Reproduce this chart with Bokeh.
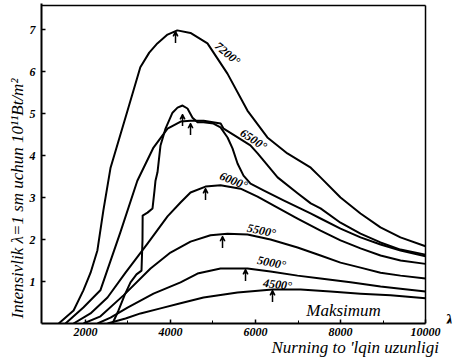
import math
from bokeh.plotting import figure
from bokeh.models import Range1d, Label, Arrow, VeeHead, FixedTicker, Title
from bokeh.embed import file_html
from bokeh.resources import INLINE

# ---- data (wavelength in Angstrom, intensity in 10^11 W/m^2 per cm) ----
t7200_x = [1370, 1720, 1950, 2120, 2280, 2420, 2590, 2990, 3290, 3500, 3690, 3930, 4160, 4470, 4870, 5340, 5810, 6280, 6750, 7300, 7530, 8000, 8470, 8940, 9410, 10000]
t7200_y = [0, 0.31, 0.79, 1.21, 1.74, 2.69, 3.71, 5.07, 6.10, 6.45, 6.67, 6.88, 6.98, 6.92, 6.67, 5.95, 5.07, 4.43, 4.05, 3.71, 3.48, 3.00, 2.62, 2.29, 2.05, 1.84]

t6500_x = [1530, 1950, 2350, 2820, 3220, 3600, 3930, 4240, 4470, 4780, 5180, 5250, 5580, 5880, 6050, 6520, 6990, 7300, 7530, 8000, 8470, 8940, 9410, 10000]
t6500_y = [0, 0.38, 0.79, 2.17, 3.40, 4.19, 4.64, 4.81, 4.83, 4.83, 4.76, 4.64, 4.43, 4.24, 4.05, 3.48, 3.10, 2.86, 2.74, 2.40, 2.14, 1.93, 1.76, 1.64]

sun_x = [2636, 2777, 2918, 3059, 3200, 3318, 3341, 3345, 3459, 3577, 3624, 3647, 3694, 3765, 3883, 4047, 4165, 4283, 4400, 4518, 4636, 4777, 5012, 5177, 5342, 5459, 5577, 5718, 5883, 6189, 6659, 7295, 7530, 8000, 8471, 8942, 9412, 10000]
sun_y = [0, 0.31, 0.67, 0.98, 1.17, 1.26, 1.98, 2.57, 2.64, 2.74, 3.17, 3.40, 3.60, 4.24, 4.64, 5.02, 5.14, 5.19, 5.12, 4.90, 4.79, 4.79, 4.76, 4.67, 4.43, 4.17, 3.81, 3.52, 3.33, 3.17, 2.93, 2.62, 2.50, 2.26, 2.05, 1.88, 1.74, 1.60]

t6000_x = [1718, 2118, 2518, 2942, 3459, 3930, 4236, 4471, 4824, 5177, 5648, 6048, 6518, 6989, 7530, 8000, 8471, 8942, 9412, 10000]
t6000_y = [0, 0.24, 0.62, 1.21, 1.90, 2.55, 2.88, 3.12, 3.26, 3.29, 3.21, 3.02, 2.76, 2.50, 2.21, 1.98, 1.79, 1.62, 1.50, 1.42]

t5500_x = [1953, 2353, 2894, 3530, 4000, 4471, 4941, 5342, 5812, 6353, 6989, 7530, 8000, 8471, 8942, 9412, 10000]
t5500_y = [0, 0.17, 0.67, 1.31, 1.69, 1.95, 2.10, 2.14, 2.12, 2.00, 1.81, 1.62, 1.45, 1.33, 1.21, 1.14, 1.07]

t5000_x = [2283, 2589, 2989, 3600, 4236, 4636, 5177, 5812, 6353, 6989, 7530, 8236, 8942, 9412, 10000]
t5000_y = [0, 0.14, 0.38, 0.71, 0.98, 1.19, 1.31, 1.31, 1.24, 1.14, 1.07, 0.98, 0.88, 0.83, 0.76]

t4500_x = [2518, 2942, 3294, 3765, 4236, 4777, 5577, 6400, 7060, 7765, 8471, 9177, 10000]
t4500_y = [0, 0.12, 0.24, 0.36, 0.48, 0.62, 0.74, 0.81, 0.81, 0.76, 0.71, 0.67, 0.60]

# maxima markers (wavelength, intensity at the curve)
peak_x = [4118, 4283, 4471, 4824, 5224, 5765, 6400]
peak_y = [6.98, 5.00, 4.79, 3.24, 2.10, 1.31, 0.81]

curve_labels = ["7200°", "6500°", "6000°", "5500°", "5000°", "4500°"]
x_ticks = [2000, 4000, 6000, 8000, 10000]
x_minor = [3000, 5000, 7000, 9000]
y_ticks = [1, 2, 3, 4, 5, 6, 7]

# ---- layout only ----
x_start, x_end_axis, x_end_frame = 965, 10000, 10729
y_top_border, y_end = 7.57, 7.62
lab_x = [5341, 5953, 5483, 6142, 6377, 6518]
lab_y = [6.43, 4.38, 3.40, 2.21, 1.45, 0.93]
lab_ang = [-40, -33, -22, -12, -11, -7]

p = figure(width=456, height=357, output_backend="svg", toolbar_location=None,
           x_range=Range1d(x_start, x_end_frame), y_range=Range1d(0, y_end),
           min_border_left=41, min_border_right=0, min_border_top=3, min_border_bottom=34)
p.xgrid.visible = False
p.ygrid.visible = False
p.outline_line_color = None
p.background_fill_color = "white"
p.border_fill_color = "white"

for ax in (p.xaxis, p.yaxis):
    ax.axis_line_width = 2
    ax.axis_line_color = "black"
    ax.major_tick_in = 4
    ax.major_tick_out = 0
    ax.minor_tick_in = 3
    ax.minor_tick_out = 0
    ax.major_tick_line_width = 1.5
    ax.major_label_text_font = "Liberation Serif"
    ax.major_label_text_font_style = "bold italic"
    ax.major_label_text_font_size = "12px"
    ax.major_label_text_color = "black"

p.xaxis.ticker = FixedTicker(ticks=x_ticks, minor_ticks=x_minor)
p.xaxis.bounds = (x_start, x_end_axis)
p.yaxis.ticker = FixedTicker(ticks=y_ticks)
p.xaxis.major_label_standoff = 4
p.yaxis.major_label_standoff = 6

# frame border (top and right)
p.line([x_start, x_end_axis], [y_top_border, y_top_border], line_width=1.5, color="black")
p.line([x_end_axis, x_end_axis], [0, y_top_border], line_width=1.5, color="black")

for xs, ys in [(t7200_x, t7200_y), (t6500_x, t6500_y), (sun_x, sun_y),
               (t6000_x, t6000_y), (t5500_x, t5500_y), (t5000_x, t5000_y),
               (t4500_x, t4500_y)]:
    p.line(xs, ys, line_width=2, color="black", line_join="round")

for px, py in zip(peak_x, peak_y):
    p.add_layout(Arrow(end=VeeHead(size=5, line_width=1.2, fill_color="black"),
                       x_start=px, y_start=py - 0.3, x_end=px, y_end=py - 0.02,
                       line_width=1.5, line_color="black"))

for t, lx, ly, la in zip(curve_labels, lab_x, lab_y, lab_ang):
    p.add_layout(Label(x=lx, y=ly, text=t, angle=math.radians(la),
                       text_align="center", text_baseline="middle",
                       text_font="Liberation Serif", text_font_style="bold italic",
                       text_font_size="12px", text_color="black"))

p.add_layout(Label(x=8071, y=0.31, text="Maksimum", text_align="center", text_baseline="middle",
                   text_font="Liberation Serif", text_font_style="italic",
                   text_font_size="17px", text_color="black"))
p.add_layout(Label(x=10560, y=0.07, text="λ", text_align="center", text_baseline="middle",
                   text_font="Liberation Serif", text_font_style="bold italic",
                   text_font_size="17px", text_color="black"))

p.add_layout(Title(text="Nurning to 'lqin uzunligi", align="left", offset=230, standoff=-6,
                   text_font="Liberation Serif", text_font_style="italic",
                   text_font_size="17px", text_color="black"), "below")
p.add_layout(Title(text="Intensivlik λ=1 sm uchun 10¹¹Bt/m²", align="left", offset=5, standoff=0,
                   text_font="Liberation Serif", text_font_style="italic",
                   text_font_size="17px", text_color="black"), "left")

open("out.html", "w").write(file_html(p, INLINE))
